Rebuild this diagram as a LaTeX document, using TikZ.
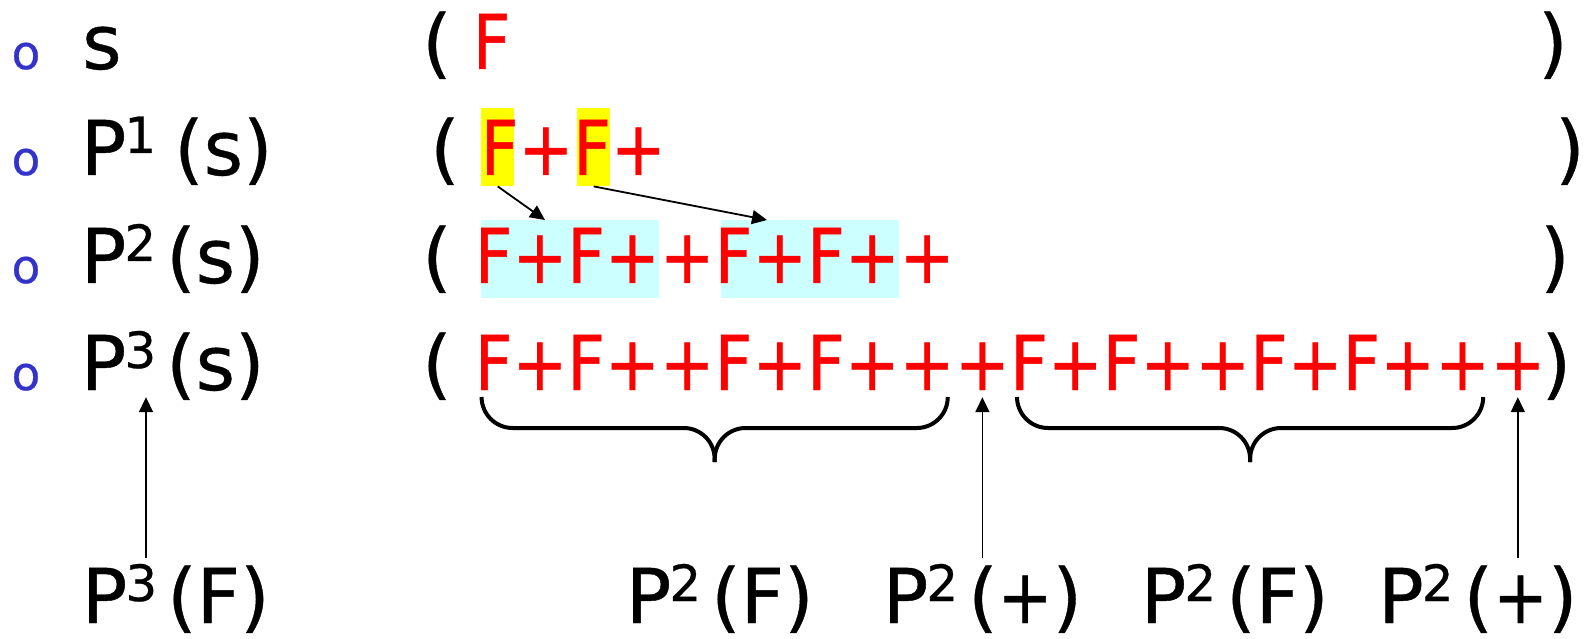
\documentclass[tikz,border=0pt]{standalone}
\usepackage{fontspec}
\setmainfont{DejaVu Sans}[FakeBold=0.5]
\newfontfamily\redfont{DejaVu Sans}[FakeStretch=0.866,FakeBold=0.5]
\usetikzlibrary{arrows.meta,calc}
\definecolor{bul}{HTML}{3333CC}
\definecolor{hl}{HTML}{FFFF00}
\definecolor{cy}{HTML}{CCFFFF}
\definecolor{rd}{HTML}{FF0000}
\newcommand\sups[1]{\raisebox{22pt}{\fontsize{50}{50}\selectfont #1}}
\newcommand\nplus{{\redfont +}}
\begin{document}
\begin{tikzpicture}[x=1pt,y=-1pt,
  btxt/.style={inner sep=0pt, anchor=base west, text=black, font=\fontsize{75.6}{80}\selectfont},
  rtxt/.style={inner sep=0pt, anchor=base west, text=rd, font=\redfont\fontsize{75.6}{80}\selectfont},
  bullet/.style={inner sep=0pt, anchor=base west, text=bul, font=\fontsize{47}{50}\selectfont},
  hlbox/.style={fill=hl, draw=none, inner sep=0pt, anchor=north west, minimum width=33pt, minimum height=78pt},
  cybox/.style={fill=cy, draw=none, inner sep=0pt, anchor=north west, minimum width=178pt, minimum height=78pt},
  arr/.style={line width=1.8pt, -{Triangle[length=15pt,width=14pt]}},
  brc/.style={line width=4pt, rounded corners=31pt},
]
\useasboundingbox (0,0) rectangle (1591,639);
% highlight boxes
\node[hlbox] (y1) at (481,108) {};
\node[hlbox] (y2) at (577,108) {};
\node[cybox] (c1) at (481,220) {};
\node[cybox] (c2) at (721,220) {};
% bullets
\node[bullet] (o1) at (11.4,69) {o};
\node[bullet] (o2) at (11.4,175) {o};
\node[bullet] (o3) at (11.4,283) {o};
\node[bullet] (o4) at (11.4,390) {o};
% left labels
\node[btxt] (l1) at (82,69) {s};
\node[btxt] (l2) at (80.6,175) {P\kern-2pt\sups{1}\kern18pt(s)};
\node[btxt] (l3) at (80.6,283) {P\kern-2pt\sups{2}\kern10pt(s)};
\node[btxt] (l4) at (80.6,390) {P\kern-2pt\sups{3}\kern10pt(s)};
% parentheses
\node[btxt] (lp1) at (422,69) {(};
\node[btxt] (lp2) at (430,175) {(};
\node[btxt] (lp3) at (422,283) {(};
\node[btxt] (lp4) at (422,390) {(};
\node[btxt] (rp1) at (1538,69) {)};
\node[btxt] (rp2) at (1555,175) {)};
\node[btxt] (rp3) at (1540,283) {)};
% red strings
\node[rtxt] (r1) at (472.6,69) {F};
\node[rtxt] (r2) at (480.6,175) {F+F+};
\node[rtxt] (r3) at (474.6,283) {F+F++F+F++};
\node[rtxt] (p1) at (474.6,390) {F+F++F+F++};
\node[rtxt] (q1) at (p1.base east) {+};
\node[rtxt] (p2) at (q1.base east) {F+F++F+F++};
\node[rtxt] (q2) at (p2.base east) {+};
\node[btxt] (rp4) at ([xshift=-4pt]q2.base east) {)};
% bottom labels
\node[btxt] (b0) at (81.6,623) {P\kern-2pt\sups{3}\kern10pt(F)};
\node[btxt] (b1) at (625.6,623) {P\kern-2pt\sups{2}\kern10pt(F)};
\node[btxt] (b2) at (882.6,623) {P\kern-2pt\sups{2}\kern10pt(\nplus)};
\node[btxt] (b3) at (1140.6,623) {P\kern-2pt\sups{2}\kern10pt(F)};
\node[btxt] (b4) at (1378,623) {P\kern-2pt\sups{2}\kern10pt(\nplus)};
% arrows row 2 -> row 3
\draw[arr] (y1.south) -- ([xshift=64pt]c1.north west);
\draw[arr] (y2.south) -- ([xshift=46pt]c2.north west);
% braces
\coordinate (b1a) at ([shift={(7pt,-7pt)}]p1.base west);
\coordinate (b1b) at ([shift={(-7pt,-7pt)}]p1.base east);
\coordinate (b2a) at ([shift={(7pt,-7pt)}]p2.base west);
\coordinate (b2b) at ([shift={(-7pt,-7pt)}]p2.base east);
\draw[brc] (b1a) -- ++(0,31) -- ($(b1a)!0.5!(b1b)+(0,31)$) -- ++(0,34);
\draw[brc] (b1b) -- ++(0,31) -- ($(b1a)!0.5!(b1b)+(0,31)$) -- ++(0,34);
\draw[brc] (b2a) -- ++(0,31) -- ($(b2a)!0.5!(b2b)+(0,31)$) -- ++(0,34);
\draw[brc] (b2b) -- ++(0,31) -- ($(b2a)!0.5!(b2b)+(0,31)$) -- ++(0,34);
% bottom arrows
\coordinate (s0) at ([xshift=64.4pt]b0.north west);
\coordinate (e0) at ([xshift=65.4pt]l4.south west);
\draw[arr] ([yshift=6pt]s0) -- ([yshift=3pt]e0);
\coordinate (s1) at (q1.south |- b2.north);
\coordinate (s2) at (q2.south |- b4.north);
\draw[arr] ([yshift=6pt]s1) -- ([yshift=-7pt]q1.south);
\draw[arr] ([yshift=6pt]s2) -- ([yshift=-7pt]q2.south);
\end{tikzpicture}
\end{document}
